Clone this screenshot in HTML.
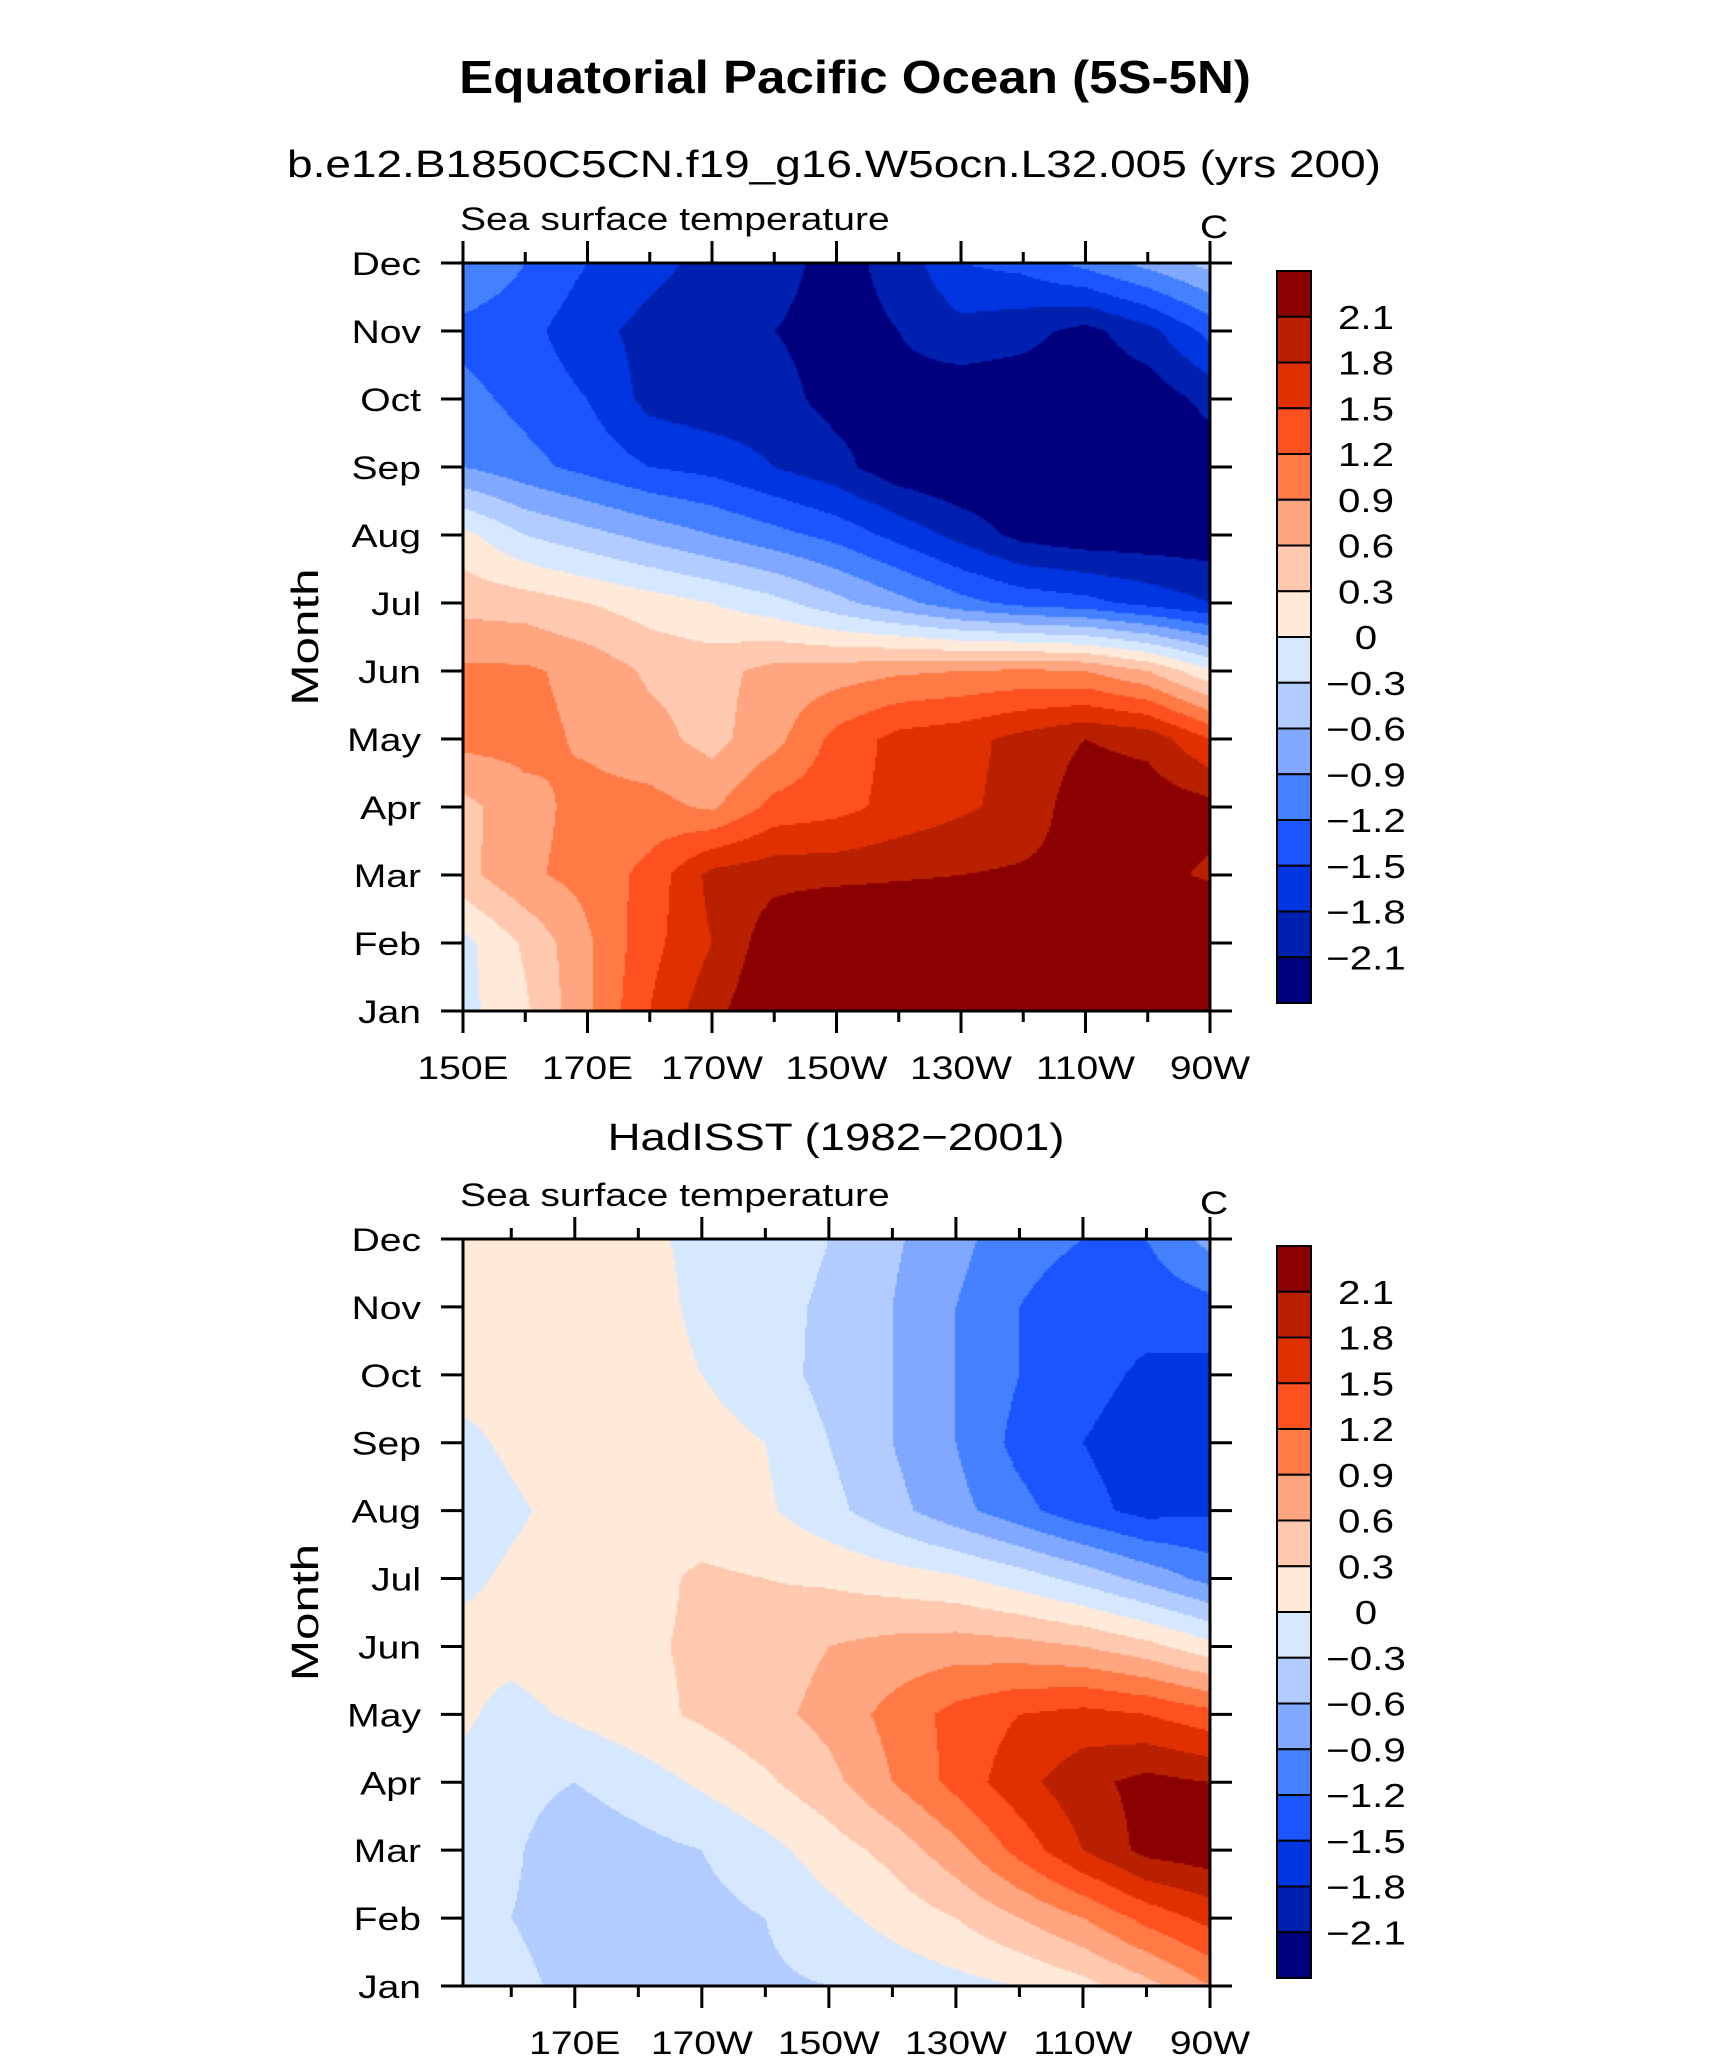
<!DOCTYPE html>
<html><head><meta charset="utf-8">
<style>
html,body{margin:0;padding:0;background:#fff;}
#wrap{position:relative;width:1710px;height:2062px;overflow:hidden;font-family:"Liberation Sans",sans-serif;}
canvas{position:absolute;}
svg{position:absolute;left:0;top:0;}
</style></head>
<body>
<div id="wrap">
<canvas id="c1"></canvas>
<canvas id="c2"></canvas>
<svg id="s" width="1710" height="2062"></svg>
</div>
<script>
// ---- data ----
const months = ["Jan","Feb","Mar","Apr","May","Jun","Jul","Aug","Sep","Oct","Nov","Dec"];
const lons = [150,160,170,180,190,200,210,220,230,240,250,260,270];
const levels = [-2.1,-1.8,-1.5,-1.2,-0.9,-0.6,-0.3,0,0.3,0.6,0.9,1.2,1.5,1.8,2.1];
const levelLabels = ["−2.1","−1.8","−1.5","−1.2","−0.9","−0.6","−0.3","0","0.3","0.6","0.9","1.2","1.5","1.8","2.1"];
const colors = ["#00007f","#0020b0","#0035e0","#1a55ff","#4580ff","#80a8ff","#b3ccff","#d6e8ff","#ffe9d9","#ffc9b0","#ffa680","#ff7a45","#ff5020","#e03000","#b82000","#8b0000"];
const xTicksTop = ["150E","170E","170W","150W","130W","110W","90W"];
const xTickLonsTop = [150,170,190,210,230,250,270];
const xTicksBot = ["170E","170W","150W","130W","110W","90W"];
const xTickLonsBot = [170,190,210,230,250,270];
// model SST anomaly: rows Jan..Dec, cols lons
const modelSST = [
[-0.1,0.25,0.85,1.5,2.0,2.4,2.6,2.6,2.6,2.6,2.6,2.6,2.6],
[-0.1,0.35,0.85,1.4,1.8,2.3,2.6,2.6,2.6,2.6,2.6,2.6,2.6],
[0.5,0.85,1.0,1.3,1.9,2.0,2.0,2.05,2.1,2.15,2.2,2.2,2.05],
[0.5,0.8,1.0,1.0,0.85,1.3,1.4,1.6,1.75,1.9,2.3,2.3,2.2],
[1.0,1.0,0.85,0.7,0.5,0.8,1.3,1.6,1.7,1.9,2.1,2.0,1.5],
[0.95,0.95,0.8,0.55,0.5,0.7,0.75,0.85,0.9,0.95,0.9,0.6,0.05],
[0.5,0.45,0.3,0.15,0.0,-0.2,-0.5,-0.8,-1.1,-1.3,-1.4,-1.6,-1.8],
[0.1,-0.3,-0.5,-0.7,-0.9,-1.1,-1.3,-1.6,-1.9,-2.2,-2.3,-2.3,-2.3],
[-0.9,-1.1,-1.3,-1.5,-1.6,-1.8,-2.0,-2.3,-2.4,-2.4,-2.4,-2.4,-2.3],
[-1.1,-1.3,-1.5,-1.9,-2.0,-2.0,-2.2,-2.2,-2.3,-2.3,-2.3,-2.3,-2.0],
[-1.3,-1.4,-1.7,-1.9,-2.0,-2.1,-2.2,-2.1,-1.9,-2.0,-2.2,-1.9,-1.4],
[-0.9,-1.2,-1.5,-1.7,-1.9,-2.0,-2.2,-2.0,-1.5,-1.4,-1.1,-0.8,-0.5]
];
const hadSST = [
[0.1,-0.2,-0.4,-0.4,-0.4,-0.35,-0.3,-0.2,-0.1,0.0,0.2,0.5,0.9],
[-0.2,-0.3,-0.45,-0.45,-0.4,-0.3,-0.1,0.1,0.3,0.6,0.9,1.3,1.6],
[-0.1,-0.25,-0.5,-0.4,-0.3,-0.1,0.15,0.4,0.8,1.3,1.8,2.2,2.3],
[-0.05,-0.2,-0.3,-0.15,0.05,0.25,0.5,0.9,1.3,1.7,2.0,2.2,2.1],
[0.1,-0.1,0.05,0.2,0.35,0.5,0.7,1.0,1.3,1.5,1.6,1.5,1.3],
[0.1,0.1,0.2,0.25,0.35,0.45,0.6,0.7,0.75,0.7,0.6,0.4,0.1],
[-0.1,0.05,0.15,0.2,0.35,0.3,0.25,0.15,0.05,-0.15,-0.4,-0.7,-1.0],
[-0.2,-0.05,0.1,0.15,0.15,0.05,-0.2,-0.5,-0.8,-1.1,-1.4,-1.6,-1.55],
[-0.1,0.05,0.25,0.25,0.1,0.0,-0.3,-0.6,-0.9,-1.3,-1.5,-1.65,-1.7],
[0.1,0.1,0.15,0.1,0.0,-0.15,-0.4,-0.6,-0.9,-1.2,-1.4,-1.55,-1.6],
[0.1,0.1,0.1,0.1,-0.05,-0.2,-0.35,-0.6,-0.9,-1.2,-1.35,-1.4,-1.3],
[0.1,0.1,0.1,0.05,-0.05,-0.15,-0.3,-0.55,-0.8,-1.1,-1.2,-1.2,-0.8]
];

const NS="http://www.w3.org/2000/svg";
const svg=document.getElementById('s');
function el(tag,attrs,parent){const e=document.createElementNS(NS,tag);for(const k in attrs)e.setAttribute(k,attrs[k]);(parent||svg).appendChild(e);return e;}
function txt(x,y,s,size,anchor,extra,stretch){
  const t=el('text',Object.assign({x:x,y:y,'font-size':size,'text-anchor':anchor||'start','font-family':'"Liberation Sans",sans-serif',fill:'#000'},extra||{}));
  t.textContent=s;
  const k=stretch||1.22;
  const w=t.getComputedTextLength();
  if(w>0){t.setAttribute('textLength',(w*k).toFixed(1));t.setAttribute('lengthAdjust','spacingAndGlyphs');}
  return t;
}

function colorFor(v){let i=0;while(i<levels.length&&v>=levels[i])i++;return colors[i];}
function sample(data,lon,mi){
  let fx=(lon-lons[0])/10, fy=mi;
  fx=Math.max(0,Math.min(lons.length-1,fx));fy=Math.max(0,Math.min(months.length-1,fy));
  const x0=Math.min(Math.floor(fx),lons.length-2),y0=Math.min(Math.floor(fy),months.length-2);
  const tx=fx-x0,ty=fy-y0;
  return data[y0][x0]*(1-tx)*(1-ty)+data[y0][x0+1]*tx*(1-ty)+data[y0+1][x0]*(1-tx)*ty+data[y0+1][x0+1]*tx*ty;
}

function panel(cfg){
  const {L,R,T,B,lonMin,lonMax,data,canvasId,cbTop,cbBot,ticks,tickLons,prefix}=cfg;
  const xs=lon=>L+(lon-lonMin)/(lonMax-lonMin)*(R-L);
  const ys=m=>B-m/11*(B-T);
  const cv=document.getElementById(canvasId);
  cv.width=R-L;cv.height=B-T;cv.style.left=L+'px';cv.style.top=T+'px';
  const ctx=cv.getContext('2d');
  const step=2;
  for(let py=0;py<cv.height;py+=step){
    const mi=(B-(T+py+step/2))/(B-T)*11;
    for(let px=0;px<cv.width;px+=step){
      const lon=lonMin+(px+step/2)/(R-L)*(lonMax-lonMin);
      ctx.fillStyle=colorFor(sample(data,lon,mi));
      ctx.fillRect(px,py,step,step);
    }
  }
  const g=el('g',{});
  el('rect',{x:L,y:T,width:R-L,height:B-T,fill:'none',stroke:'#000','stroke-width':3},g);
  months.forEach((m,i)=>{
    const y=ys(i);
    el('line',{x1:L-22,y1:y,x2:L,y2:y,stroke:'#000','stroke-width':3},g);
    el('line',{x1:R,y1:y,x2:R+22,y2:y,stroke:'#000','stroke-width':3},g);
    const t=txt(L-42,y+12,m,32,'end');
    
    
  });
  for(let lon=150;lon<=270;lon+=10){
    if(lon<lonMin-0.01)continue;
    const x=xs(lon);const major=(lon-150)%20===0;
    const len=major?22:11;
    el('line',{x1:x,y1:B,x2:x,y2:B+len,stroke:'#000','stroke-width':3},g);
    el('line',{x1:x,y1:T-len,x2:x,y2:T,stroke:'#000','stroke-width':3},g);
  }
  ticks.forEach((s,i)=>{
    const t=txt(xs(tickLons[i]),B+68,s,32,'middle');
    
    
  });
  const mt=txt(0,0,'Month',38,'middle',{transform:`translate(${L-145},${(T+B)/2}) rotate(-90)`},1.3);
  
  const st=txt(L-3,T-33,'Sea surface temperature',32,'start');
  
  const ut=txt(R-10,T-25,'C',32,'start');
  
  const cb=el('g',{});
  const n=colors.length,h=(cbBot-cbTop)/n;
  for(let i=0;i<n;i++){
    const r=el('rect',{x:1277,y:cbTop+i*h,width:34,height:h,fill:colors[n-1-i],stroke:'#000','stroke-width':2},cb);
    
  }
  for(let j=0;j<levels.length;j++){
    const k=levels.length-1-j;
    const t=txt(1366,cbTop+(j+1)*h+12,levelLabels[k],33,'middle');
    
  }
}

const t1=txt(855,93,'Equatorial Pacific Ocean (5S-5N)',46,'middle',{'font-weight':'bold'},1.11);

const t2=txt(834,177,'b.e12.B1850C5CN.f19_g16.W5ocn.L32.005 (yrs 200)',38,'middle',{},1.21);

const t3=txt(836,1150,'HadISST (1982−2001)',38,'middle',{},1.2);


panel({L:463,R:1210,T:263,B:1011,lonMin:150,lonMax:270,data:modelSST,canvasId:'c1',cbTop:271,cbBot:1003,ticks:xTicksTop,tickLons:xTickLonsTop,prefix:'model'});
panel({L:463,R:1210,T:1239,B:1986,lonMin:152.4,lonMax:270,data:hadSST,canvasId:'c2',cbTop:1246,cbBot:1978,ticks:xTicksBot,tickLons:xTickLonsBot,prefix:'obs'});
</script>
</body></html>
